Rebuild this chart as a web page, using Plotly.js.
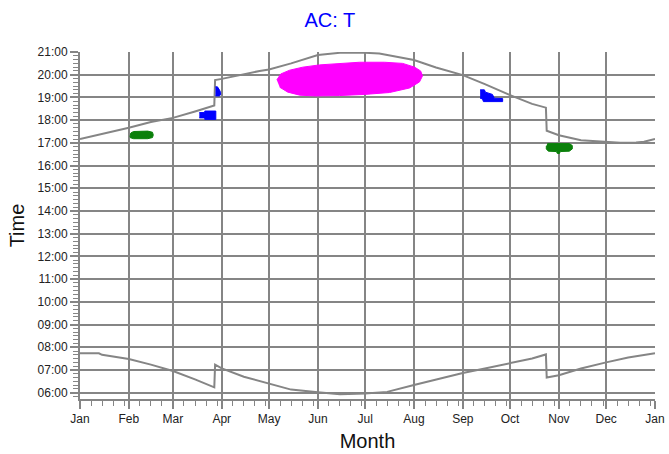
<!DOCTYPE html>
<html>
<head>
<meta charset="utf-8">
<script src="https://cdn.plot.ly/plotly-3.0.1.min.js"></script>
<style>html,body{margin:0;padding:0;background:#fff}#chart{width:669px;height:454px}</style>
</head>
<body>
<div id="chart"></div>
<script>
// ---- data ----
const monthLabels = ['Jan','Feb','Mar','Apr','May','Jun','Jul','Aug','Sep','Oct','Nov','Dec','Jan'];
const monthStarts = ['2021-01-01','2021-02-01','2021-03-01','2021-04-01','2021-05-01','2021-06-01',
  '2021-07-01','2021-08-01','2021-09-01','2021-10-01','2021-11-01','2021-12-01','2022-01-01'];
const hourLabels = ['06:00','07:00','08:00','09:00','10:00','11:00','12:00','13:00','14:00',
  '15:00','16:00','17:00','18:00','19:00','20:00','21:00'];

// sunset curve
const sunsetDates = ['2021-01-01','2021-01-15','2021-02-01','2021-02-15','2021-03-01','2021-03-15',
  '2021-03-27 06:00','2021-03-27 18:00','2021-04-01','2021-04-25','2021-05-01','2021-05-15','2021-06-01',
  '2021-06-15','2021-07-01','2021-07-10','2021-07-15','2021-08-01','2021-08-15','2021-09-01',
  '2021-09-15','2021-10-01','2021-10-15','2021-10-23 18:00','2021-10-24 06:00','2021-11-01',
  '2021-11-15','2021-12-01','2021-12-10','2021-12-20','2021-12-25','2022-01-01'];
const sunsetTimes = ['17:10','17:23','17:40','17:55','18:06','18:23',
  '18:39','19:46','19:49','20:10','20:14','20:30','20:52',
  '20:58','20:58','20:56','20:52','20:39','20:19','19:59',
  '19:35','19:06','18:43','18:33','17:32','17:20',
  '17:07','17:03','17:00','17:01','17:03','17:10'];

// sunrise curve
const sunriseDates = ['2021-01-01','2021-01-13','2021-01-15','2021-02-01','2021-02-15','2021-03-01',
  '2021-03-15','2021-03-27 06:00','2021-03-27 18:00','2021-04-01','2021-04-15','2021-05-01','2021-05-15',
  '2021-06-01','2021-06-15','2021-07-01','2021-07-15','2021-08-01','2021-08-15','2021-09-01',
  '2021-09-15','2021-10-01','2021-10-15','2021-10-23 18:00','2021-10-24 06:00','2021-11-01',
  '2021-11-15','2021-12-01','2021-12-15','2022-01-01'];
const sunriseTimes = ['07:44','07:44','07:40','07:29','07:14','06:57',
  '06:35','06:14','07:14','07:04','06:42','06:24','06:08',
  '06:01','05:56','05:58','06:02','06:20','06:35','06:52',
  '07:04','07:17','07:30','07:41','06:40','06:46',
  '07:04','07:20','07:33','07:44'];

// glare regions (outlines)
const greenFebX = ['2021-02-01 17:00','2021-02-02 06:00','2021-02-04 00:00','2021-02-13 00:00','2021-02-16 00:00',
  '2021-02-16 12:00','2021-02-16 00:00','2021-02-13 00:00','2021-02-04 00:00','2021-02-01 17:00'];
const greenFebY = ['17:16','17:26','17:30','17:31','17:28','17:21','17:14','17:11','17:11','17:14'];

const blueMarX = ['2021-03-17 18:00','2021-03-21 05:00','2021-03-21 05:00','2021-03-28 05:00','2021-03-28 05:00',
  '2021-03-21 05:00','2021-03-21 05:00','2021-03-17 18:00'];
const blueMarY = ['18:20','18:20','18:24','18:24','18:02','18:02','18:06','18:06'];

const blueMar2X = ['2021-03-28 00:00','2021-03-29 06:00','2021-03-30 12:00','2021-03-31 06:00','2021-03-31 06:00',
  '2021-03-30 12:00','2021-03-28 00:00'];
const blueMar2Y = ['19:28','19:28','19:20','19:13','19:07','19:04','19:04'];

const magentaX = ['2021-05-05 22:00','2021-05-08 10:00','2021-05-14 02:00','2021-05-22 10:00','2021-06-02 02:00',
  '2021-06-14 19:00','2021-06-27 12:00','2021-07-13 07:00','2021-07-24 19:00','2021-08-01 10:00',
  '2021-08-05 05:00','2021-08-06 10:00','2021-08-04 12:00','2021-07-29 05:00','2021-07-16 12:00',
  '2021-06-30 17:00','2021-06-14 19:00','2021-05-30 00:00','2021-05-20 12:00','2021-05-12 22:00',
  '2021-05-07 19:00'];
const magentaY = ['19:46','20:02','20:12','20:20','20:26','20:30','20:33','20:33','20:30','20:20',
  '20:10','19:57','19:41','19:25','19:13','19:08','19:05','19:04','19:06','19:14','19:27'];

const blueSepX = ['2021-09-12 00:00','2021-09-14 17:00','2021-09-15 08:00','2021-09-19 19:00','2021-09-21 00:00',
  '2021-09-26 07:00','2021-09-26 07:00','2021-09-14 02:00','2021-09-13 12:00','2021-09-12 00:00'];
const blueSepY = ['19:20','19:20','19:14','19:08','18:58','18:57','18:49','18:49','18:56','18:58'];

const greenNovX = ['2021-10-24 17:00','2021-11-07 14:00','2021-11-09 12:00','2021-11-09 12:00','2021-11-07 14:00',
  '2021-11-01 22:00','2021-11-01 07:00','2021-10-31 00:00','2021-10-30 10:00','2021-10-25 07:00',
  '2021-10-24 00:00','2021-10-24 00:00'];
const greenNovY = ['16:58','16:58','16:53','16:44','16:38','16:37','16:32','16:32','16:37','16:38','16:44','16:52'];

// ---- helpers ----
function toHours(s){ const p = s.split(':'); return +p[0] + (+p[1])/60; }
function hrs(arr){ return arr.map(toHours); }

// minor x ticks on the 8th, 15th, 22nd, 29th of each month
const minorX = [];
for (let m = 1; m <= 12; m++) {
  const dim = new Date(2021, m, 0).getDate();
  [8,15,22,29].forEach(d => { if (d <= dim) minorX.push('2021-' + String(m).padStart(2,'0') + '-' + String(d).padStart(2,'0')); });
}
const majorY = hourLabels.map(toHours);

const grey = '#858585';
function blob(x, y, color){
  return {x: x, y: hrs(y), type: 'scatter', mode: 'lines', fill: 'toself', fillcolor: color,
    line: {color: color, width: 1}, hoverinfo: 'skip', showlegend: false};
}
const traces = [
  {x: sunsetDates, y: hrs(sunsetTimes), type: 'scatter', mode: 'lines', line: {color: grey, width: 2}, showlegend: false},
  {x: sunriseDates, y: hrs(sunriseTimes), type: 'scatter', mode: 'lines', line: {color: grey, width: 2}, showlegend: false},
  blob(greenFebX, greenFebY, '#0a800a'),
  blob(blueMarX, blueMarY, '#0000ff'),
  blob(blueMar2X, blueMar2Y, '#0000ff'),
  blob(magentaX, magentaY, '#ff00ff'),
  blob(blueSepX, blueSepY, '#0000ff'),
  blob(greenNovX, greenNovY, '#0a800a')
];

const font = 'Liberation Sans, Arial, sans-serif';
const layout = {
  width: 669, height: 454,
  margin: {l: 80, r: 14, t: 52, b: 55},
  paper_bgcolor: '#fff', plot_bgcolor: '#fff',
  font: {family: font, size: 12, color: '#222'},
  title: {text: 'AC: T', font: {family: font, size: 20, color: '#0000ff'}, x: 0.493, xref: 'container', xanchor: 'center', y: 0.956, yanchor: 'middle'},
  xaxis: {
    type: 'date', range: ['2021-01-01', '2022-01-01'],
    tickmode: 'array', tickvals: monthStarts, ticktext: monthLabels,
    ticks: 'outside', ticklen: 8, tickwidth: 2, tickcolor: grey,
    showgrid: true, gridcolor: grey, gridwidth: 2,
    showline: true, linecolor: grey, linewidth: 2,
    zeroline: false, automargin: false,
    tickfont: {family: font, size: 12, color: '#222'},
    minor: {tickmode: 'array', tickvals: minorX, ticks: 'outside', ticklen: 5, tickwidth: 1, tickcolor: grey, showgrid: false},
    title: {text: 'Month', font: {family: font, size: 20, color: '#111'}, standoff: 9}
  },
  yaxis: {
    type: 'linear', range: [5.72, 21.001],
    tickmode: 'array', tickvals: majorY, ticktext: hourLabels,
    ticks: 'outside', ticklen: 8, tickwidth: 2, tickcolor: grey,
    showgrid: true, gridcolor: grey, gridwidth: 2,
    showline: true, linecolor: grey, linewidth: 2,
    zeroline: false, automargin: false,
    tickfont: {family: font, size: 12, color: '#222'},
    minor: {tickmode: 'linear', tick0: 0, dtick: 1/6, ticks: 'outside', ticklen: 5, tickwidth: 1, tickcolor: grey, showgrid: false},
    title: {text: 'Time', font: {family: font, size: 20, color: '#111'}, standoff: 8}
  }
};
Plotly.newPlot('chart', traces, layout, {displayModeBar: false, staticPlot: true});
</script>
</body>
</html>
